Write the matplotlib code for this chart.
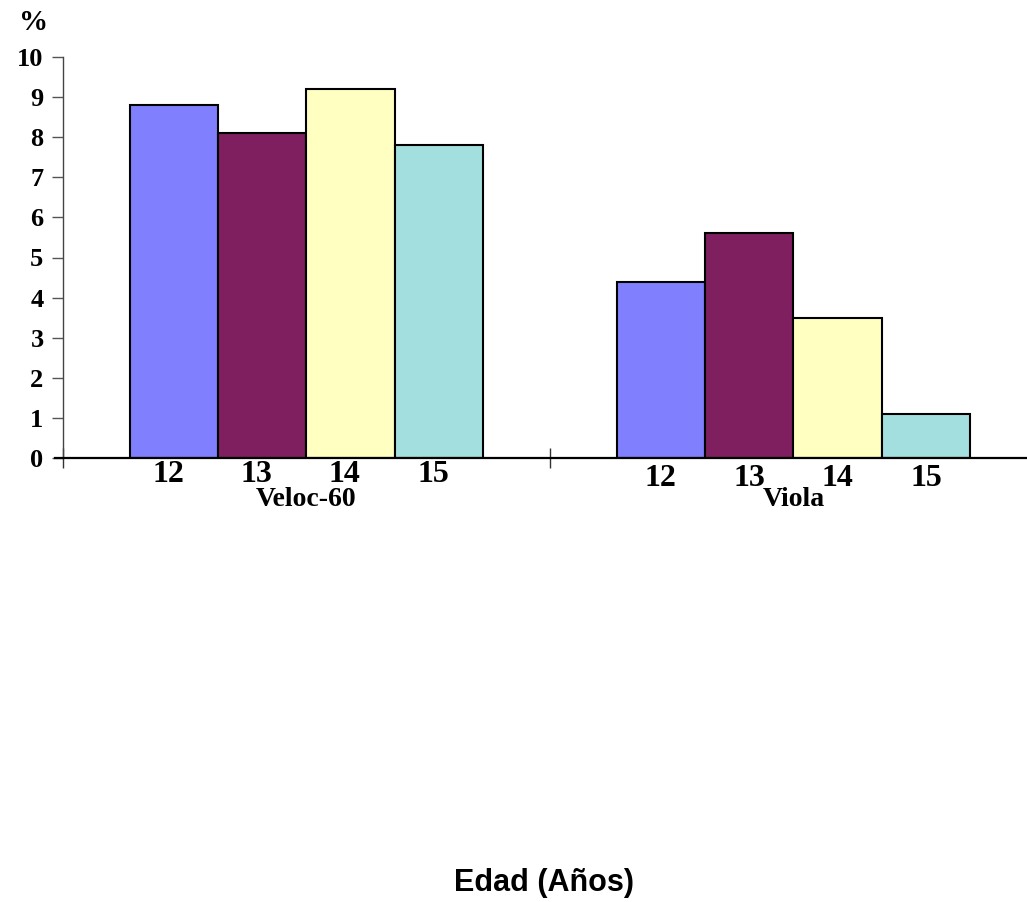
import matplotlib.pyplot as plt
import matplotlib.transforms as mtransforms

groups = ["Veloc-60", "Viola"]
ages = ["12", "13", "14", "15"]
veloc = [8.8, 8.1, 9.2, 7.8]
viola = [4.4, 5.6, 3.5, 1.1]
colors = ["#8080FF", "#7F1F5F", "#FFFFC2", "#A3DFDF"]

fig = plt.figure(figsize=(10.27, 9.02), dpi=100)
# axis runs past the right edge of the figure, like in the original
ax = fig.add_axes([63 / 1027, 1 - 458 / 902, 974 / 1027, 401 / 902])

start = 0.137
width = 0.1815
for g, vals in enumerate([veloc, viola]):
    for i, v in enumerate(vals):
        x = g + start + i * width
        ax.bar(x, v, width=width, align="edge", color=colors[i],
               edgecolor="black", linewidth=1.5, zorder=2)

ax.set_xlim(0, 2)
ax.set_ylim(0, 10)
ax.set_xticks([0, 1])
ax.set_xticklabels([])
ax.tick_params(axis="x", direction="inout", length=15, width=1, color="#333333")
ax.set_yticks(range(11))
ax.set_yticklabels([str(i) for i in range(11)], fontfamily="Liberation Serif",
                   fontweight="bold", fontsize=19)
ax.tick_params(axis="y", direction="out", length=8, width=1, color="#555555", pad=6)
for s in ["top", "right"]:
    ax.spines[s].set_visible(False)
ax.spines["left"].set_color("#444444")
ax.spines["left"].set_linewidth(1)
ax.spines["bottom"].set_linewidth(1.6)
ax.spines["bottom"].set_bounds(-0.017, 2)

trans = mtransforms.blended_transform_factory(ax.transData, fig.transFigure)
for g, name in enumerate(groups):
    ly = 1 - 474 / 902 if g == 0 else 1 - 479 / 902
    for i, a in enumerate(ages):
        x = g + start + (i + 0.5) * width - (0.012 if g == 0 else 0)
        ax.text(x, ly, a, transform=trans, ha="center", va="center",
                fontfamily="Liberation Serif", fontweight="bold", fontsize=23)
    ax.text(g + 0.5, 1 - 499 / 902, name, transform=trans,
            ha="center", va="center", fontfamily="Liberation Serif",
            fontweight="bold", fontsize=20)

fig.text(34 / 1027, 1 - 23 / 902, "%", ha="center", va="center",
         fontfamily="Liberation Serif", fontweight="bold", fontsize=21)
fig.text(544 / 1027, 1 - 883 / 902, "Edad (Años)", ha="center", va="center",
         fontfamily="Liberation Sans", fontweight="bold", fontsize=22)

fig.savefig("out.png", dpi=100)
